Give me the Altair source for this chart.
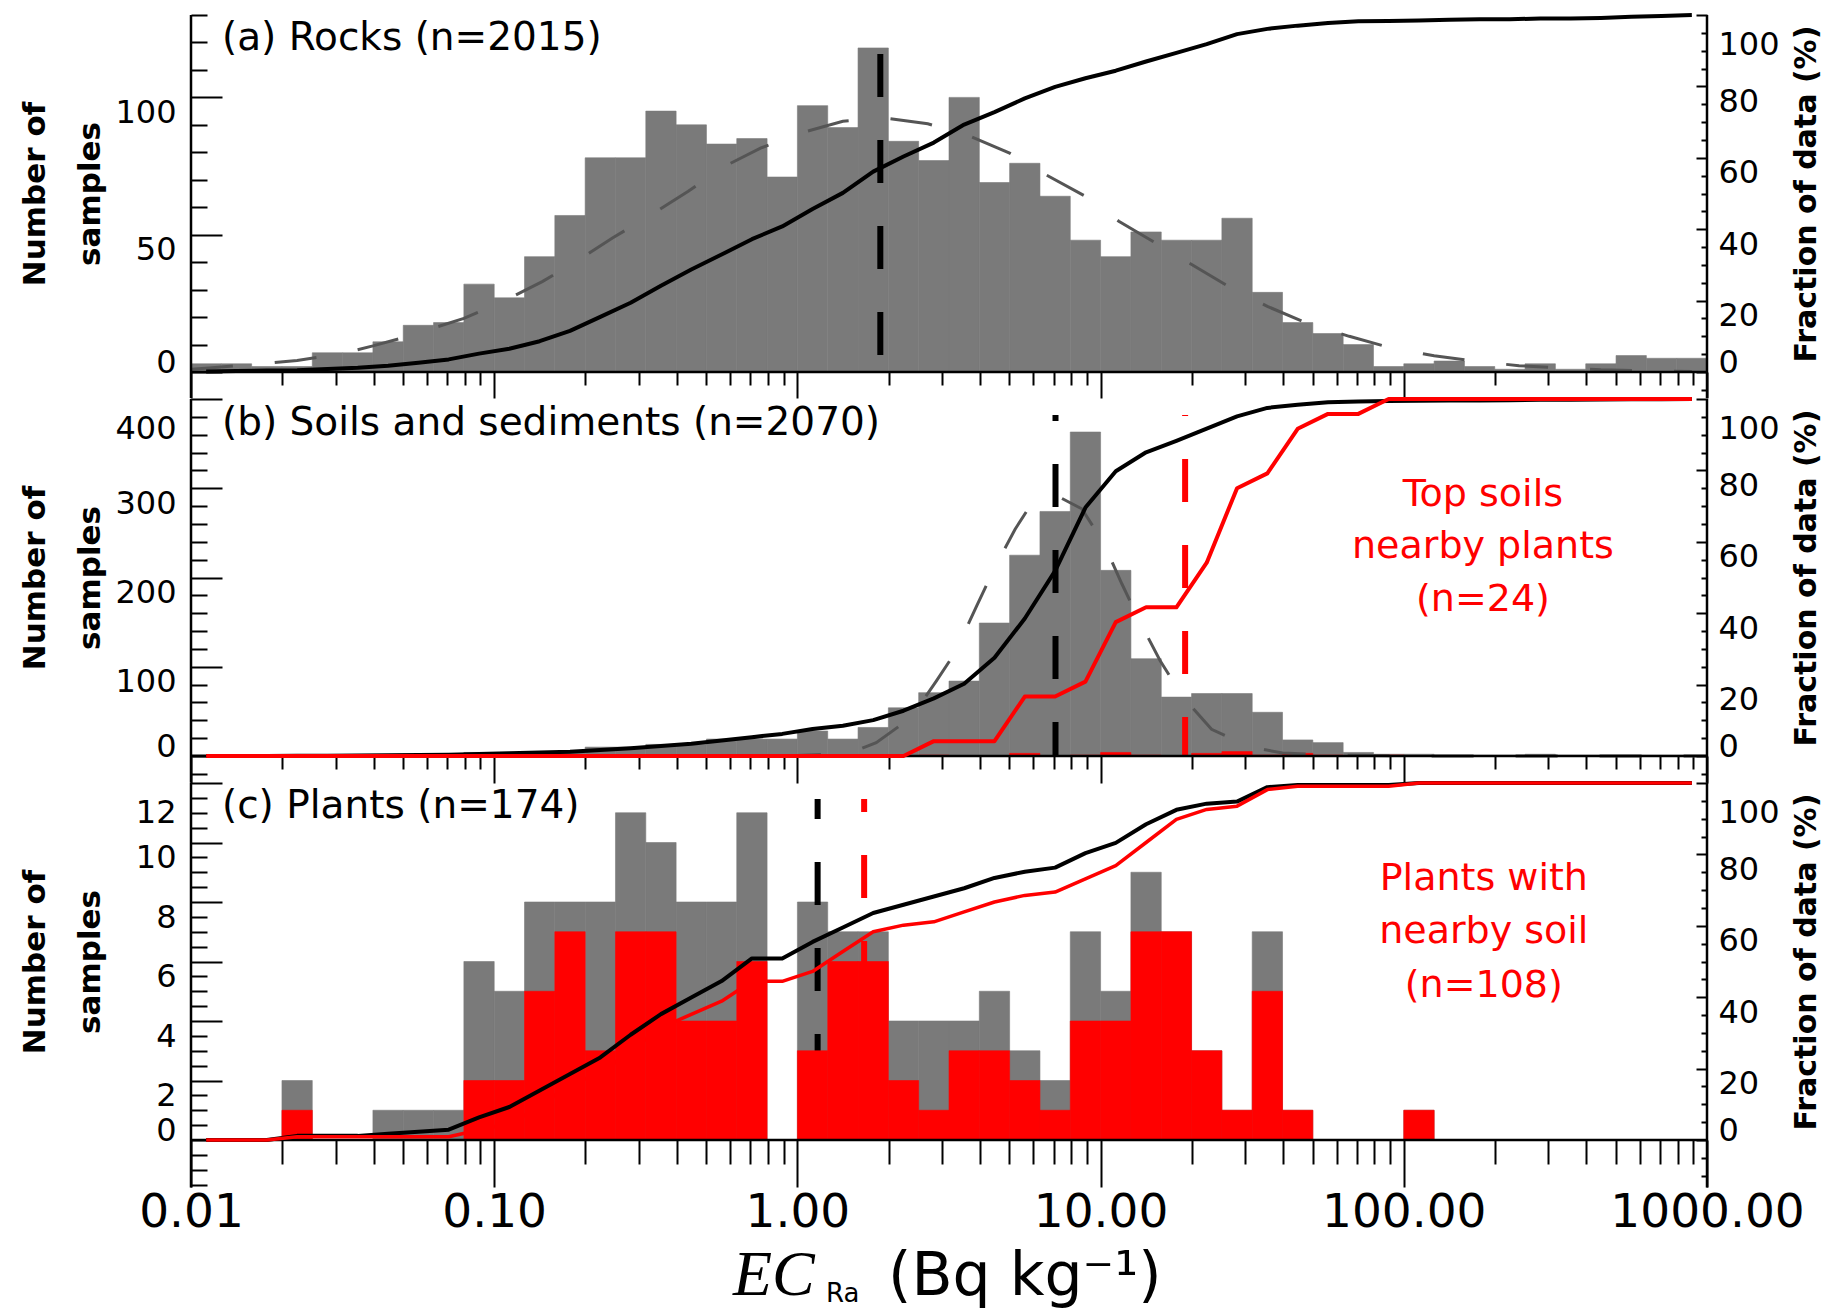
import altair as alt
import pandas as pd

FONT = "DejaVu Sans"
GREY = "#7a7a7a"
FIT_GREY = "#555555"
RED = "#ff0000"

# ---------------- data ----------------
# histograms use 0.1-decade bins from 10^-2 to 10^3 (50 bins)
BIN_LOG_START = -2.0
BIN_LOG_WIDTH = 0.1

ROCKS_COUNTS = [3, 3, 2, 2, 7, 7, 11, 17, 18, 32,
                27, 42, 57, 78, 78, 95, 90, 83, 85, 71,
                97, 89, 118, 84, 77, 100, 69, 76, 64, 48,
                42, 51, 48, 48, 56, 29, 18, 14, 10, 2,
                3, 4, 2, 1, 3, 1, 3, 6, 5, 5]
SOILS_COUNTS = [0, 0, 0, 1, 1, 1, 1, 2, 2, 4,
                4, 4, 4, 10, 10, 13, 13, 19, 19, 19,
                28, 19, 32, 54, 71, 84, 149, 225, 274, 363,
                208, 109, 66, 70, 70, 49, 18, 15, 4, 2,
                2, 1, 1, 1, 2, 1, 1, 1, 1, 1]
TOPSOIL_COUNTS = [0, 0, 0, 0, 0, 0, 0, 0, 0, 0,
                  0, 0, 0, 0, 0, 0, 0, 0, 0, 0,
                  0, 0, 0, 0, 1, 0, 0, 3, 0, 1,
                  4, 1, 0, 3, 5, 1, 3, 1, 0, 1,
                  0, 0, 0, 0, 0, 0, 0, 0, 0, 0]
PLANTS_COUNTS = [0, 0, 0, 2, 0, 0, 1, 1, 1, 6,
                 5, 8, 8, 8, 11, 10, 8, 8, 11, 0,
                 8, 7, 7, 4, 4, 4, 5, 3, 2, 7,
                 5, 9, 7, 3, 1, 7, 1, 0, 0, 0,
                 1, 0, 0, 0, 0, 0, 0, 0, 0, 0]
PLANTS_SOIL_COUNTS = [0, 0, 0, 1, 0, 0, 0, 0, 0, 2,
                      2, 5, 7, 3, 7, 7, 4, 4, 6, 0,
                      3, 6, 6, 2, 1, 3, 3, 2, 1, 4,
                      4, 7, 7, 3, 1, 5, 1, 0, 0, 0,
                      1, 0, 0, 0, 0, 0, 0, 0, 0, 0]

# log-normal fit curves (dashed grey)
ROCKS_FIT_LOGX = [-2.00, -1.94, -1.79, -1.65, -1.51, -1.40, -1.30, -1.20, -1.10, -0.97,
                  -0.84, -0.72, -0.61, -0.49, -0.36, -0.24, -0.12, 0.01, 0.15, 0.29,
                  0.43, 0.57, 0.70, 0.82, 0.95, 1.06, 1.19, 1.31, 1.43, 1.55,
                  1.68, 1.82, 1.95, 2.10, 2.24, 2.38, 2.51, 2.65, 2.80, 2.95]
ROCKS_FIT_COUNT = [1.0, 1.5, 2.8, 4.2, 6.5, 9.5, 12.5, 16.0, 19.5, 25.7,
                   33.0, 40.9, 48.8, 56.7, 65.8, 74.9, 81.6, 87.0, 91.3, 92.5,
                   90.4, 85.8, 79.7, 71.8, 64.0, 54.9, 46.4, 38.5, 30.6, 23.9,
                   17.8, 13.0, 9.0, 5.9, 3.9, 2.3, 1.5, 0.8, 0.5, 0.2]
SOILS_FIT_LOGX = [-2.00, -0.30, 0.00, 0.10, 0.20, 0.26, 0.375, 0.458, 0.503, 0.531,
                  0.591, 0.652, 0.718, 0.767, 0.81, 0.87, 0.938, 1.011, 1.07, 1.13,
                  1.196, 1.272, 1.366, 1.493, 1.60, 1.75, 2.00, 3.00]
SOILS_FIT_COUNT = [0, 0, 0.5, 2, 7, 15, 43, 84, 107, 124,
                   168, 212, 254, 280, 290, 289, 277, 238, 193, 150,
                   107, 66, 30, 10, 3.5, 1, 0, 0]

# central values marked by the vertical dashed lines (Bq/kg)
ROCKS_CENTER = 1.877
SOILS_CENTER = 7.1
TOPSOIL_CENTER = 19.0
PLANTS_CENTER = 1.166
PLANTS_SOIL_CENTER = 1.66

TITLE_A = "(a) Rocks (n=2015)"
TITLE_B = "(b) Soils and sediments (n=2070)"
TITLE_C = "(c) Plants (n=174)"
NOTE_B = "Top soils\nnearby plants\n(n=24)"
NOTE_C = "Plants with\nnearby soil\n(n=108)"

# ---------------- helpers ----------------
W = 1516
XS = alt.Scale(type="log", domain=[0.01, 1000], nice=False)
XTICKS = [m * 10.0 ** e for e in range(-2, 3) for m in range(1, 10)] + [1000.0]
IS_DECADE = "abs(log(datum.value) / LN10 - round(log(datum.value) / LN10)) < 0.001"


def hist_df(counts):
    rows = []
    for i, c in enumerate(counts):
        if c > 0:
            rows.append({"lo": 10 ** (BIN_LOG_START + BIN_LOG_WIDTH * i),
                         "hi": 10 ** (BIN_LOG_START + BIN_LOG_WIDTH * (i + 1)),
                         "count": c})
    return pd.DataFrame(rows)


def cdf_df(counts):
    total = float(sum(counts))
    run = 0
    rows = []
    for i, c in enumerate(counts):
        run += c
        rows.append({"x": 10 ** (BIN_LOG_START + BIN_LOG_WIDTH * (i + 0.5)),
                     "frac": 100.0 * run / total})
    return pd.DataFrame(rows)


def make_x_axis(offset, major, minor, show_labels):
    kw = dict(orient="bottom", offset=offset, values=XTICKS, domain=False, grid=False,
              ticks=True, tickSize=major, tickWidth=2, tickColor="black",
              tickDash={"condition": {"test": IS_DECADE, "value": [400, 1]},
                        "value": [minor, 400]},
              title=None, labelFlush=False, labelOverlap=False)
    if show_labels:
        kw.update(labels=True,
                  labelExpr=f"({IS_DECADE}) ? format(datum.value, '.2f') : ''",
                  labelFont=FONT, labelFontSize=47, labelColor="black", labelPadding=2,
                  labelLimit=0)
    else:
        kw.update(labels=False)
    return alt.Axis(**kw)


def make_left_axis(values, major_test, top_value):
    conds = [{"test": "datum.value == 0", "value": "alphabetic"}]
    if top_value is not None:
        conds.append({"test": f"datum.value == {top_value}", "value": "line-top"})
    return alt.Axis(
        orient="left", offset=-31, values=values, domain=False, grid=False,
        tickSize=31, tickWidth=2, tickColor="black",
        tickDash={"condition": {"test": f"!({major_test})", "value": [0, 15, 16, 400]},
                  "value": [400, 1]},
        labelExpr=f"(datum.value >= 0 && ({major_test})) ? format(datum.value, 'd') : ''",
        labelFont=FONT, labelFontSize=32, labelColor="black", labelPadding=15,
        labelOverlap=False, labelLimit=0,
        labelBaseline={"condition": conds, "value": "top"}, labelLineHeight=59,
        title=["Number of", "samples"], titleFont=FONT, titleFontSize=31,
        titleFontWeight="bold", titleColor="black", titleAngle=270,
        titleBaseline="alphabetic", titleAlign="center", titleLineHeight=55,
        titleX=-178, titleY=178.5)


def make_right_axis(values):
    return alt.Axis(
        orient="right", offset=-11, values=values, domain=False, grid=False,
        tickSize=11, tickWidth=2, tickColor="black",
        tickDash={"condition": {"test": "datum.value % 20 != 0", "value": [0, 5, 6, 400]},
                  "value": [400, 1]},
        labelExpr="(datum.value >= 0 && datum.value % 20 == 0) ? format(datum.value, 'd') : ''",
        labelFont=FONT, labelFontSize=32, labelColor="black", labelPadding=11,
        labelOverlap=False, labelLimit=0,
        labelBaseline={"condition": [{"test": "datum.value == 0", "value": "alphabetic"},
                                     {"test": "datum.value == 100", "value": "line-top"}],
                       "value": "top"},
        labelLineHeight=59,
        title="Fraction of data (%)", titleFont=FONT, titleFontSize=30,
        titleFontWeight="bold", titleColor="black", titleAngle=270,
        titleBaseline="alphabetic", titleAlign="center", titleX=119, titleY=178.5)


def build_panel(p):
    ys = alt.Scale(domain=[p["ymin"], p["ymax"]], nice=False, zero=False)
    fs = alt.Scale(domain=[100.0 * p["ymin"] / p["ymax"], 100], nice=False, zero=False)
    xax = make_x_axis(p["xoff"], p["xmajor"], p["xminor"], p["xlabels"])
    yax = make_left_axis(p["left_ticks"], p["left_major"], p["left_top"])
    rax = make_right_axis(p["right_ticks"])

    def X(f):
        return alt.X(f"{f}:Q", scale=XS, axis=xax)

    def Y(f):
        return alt.Y(f"{f}:Q", scale=ys, axis=yax)

    layers = []
    layers.append(alt.Chart(hist_df(p["grey"])).mark_rect(
        color=GREY, stroke=GREY, strokeWidth=0.6).encode(
        x=X("lo"), x2="hi:Q", y=Y("count"), y2=alt.datum(0)))

    for (xv, col, top, off) in p["vlines"]:
        d = pd.DataFrame({"x": [xv], "top": [top], "bottom": [0]})
        layers.append(alt.Chart(d).mark_rule(
            color=col, strokeWidth=6, strokeDash=[43, 43], strokeDashOffset=off).encode(
            x=X("x"), y=Y("top"), y2="bottom:Q"))

    if p.get("red") is not None:
        layers.append(alt.Chart(hist_df(p["red"])).mark_rect(
            color=RED, stroke=RED, strokeWidth=0.6).encode(
            x=X("lo"), x2="hi:Q", y=Y("count"), y2=alt.datum(0)))

    if p.get("fit") is not None:
        lx, cy = p["fit"]
        d = pd.DataFrame({"x": [10 ** v for v in lx], "y": cy})
        layers.append(alt.Chart(d).mark_line(
            color=FIT_GREY, strokeWidth=3, strokeDash=[42, 42]).encode(
            x=X("x"), y=Y("y")))

    # zero line and left/right frame lines
    zero = pd.DataFrame({"x": [0.01], "x2": [1000.0], "y": [0]})
    layers.append(alt.Chart(zero).mark_rule(color="black", strokeWidth=2.5).encode(
        x=X("x"), x2="x2:Q", y=Y("y")))
    frame = pd.DataFrame({"x": [0.01, 1000.0], "y": [p["ymin"]] * 2, "y2": [p["ymax"]] * 2})
    layers.append(alt.Chart(frame).mark_rule(color="black", strokeWidth=2.5).encode(
        x=X("x"), y=Y("y"), y2="y2:Q"))

    # panel title
    tx, ty = p["title_pos"]
    layers.append(alt.Chart(pd.DataFrame({"x": [tx], "y": [ty], "t": [p["title"]]})).mark_text(
        align="left", baseline="alphabetic", font=FONT, fontSize=39, color="black").encode(
        x=X("x"), y=Y("y"), text="t:N"))

    if p.get("note") is not None:
        nx, ny, txt, lh = p["note"]
        layers.append(alt.Chart(pd.DataFrame({"x": [nx], "y": [ny], "t": [txt]})).mark_text(
            align="center", baseline="alphabetic", font=FONT, fontSize=38, color=RED,
            lineBreak="\n", lineHeight=lh).encode(x=X("x"), y=Y("y"), text="t:N"))

    if p.get("xtitle"):
        pieces = [
            (0.6131, -5.21, "EC", "Liberation Serif", 64, "italic"),
            (1.2427, -5.45, "Ra", FONT, 26, "normal"),
            (1.99, -5.21, "(Bq kg\u207b\u00b9)", FONT, 60, "normal"),
        ]
        for (px, py, txt, fnt, fsz, fst) in pieces:
            layers.append(alt.Chart(pd.DataFrame({"x": [px], "y": [py], "t": [txt]})).mark_text(
                align="left", baseline="alphabetic", font=fnt, fontSize=fsz, fontStyle=fst,
                color="black").encode(x=X("x"), y=Y("y"), text="t:N"))

    frac_layers = []
    for counts, col, sw in p["cdfs"]:
        frac_layers.append(alt.Chart(cdf_df(counts)).mark_line(
            color=col, strokeWidth=sw, strokeJoin="round").encode(
            x=X("x"), y=alt.Y("frac:Q", scale=fs, axis=rax)))

    return alt.layer(alt.layer(*layers), alt.layer(*frac_layers)).resolve_scale(
        y="independent").properties(width=W, height=p["H"])


RIGHT_TICKS_AB = [-5] + list(range(0, 101, 5))
RIGHT_TICKS_C = [-10, -5] + list(range(0, 101, 5))

panel_a = dict(
    ymin=-9.5, ymax=130, H=383.1, xoff=-26.1, xmajor=26, xminor=13, xlabels=False,
    left_ticks=list(range(0, 131, 10)), left_major="datum.value % 50 == 0", left_top=None,
    right_ticks=RIGHT_TICKS_AB, grey=ROCKS_COUNTS, red=None,
    fit=(ROCKS_FIT_LOGX, ROCKS_FIT_COUNT),
    vlines=[(ROCKS_CENTER, "black", 115.8, 0)],
    title=TITLE_A, title_pos=(0.01265, 117.1), note=None,
    cdfs=[(ROCKS_COUNTS, "black", 4)])

panel_b = dict(
    ymin=-30, ymax=400, H=383.8, xoff=-26.8, xmajor=27, xminor=13, xlabels=False,
    left_ticks=[-20] + list(range(0, 401, 20)), left_major="datum.value % 100 == 0",
    left_top=400, right_ticks=RIGHT_TICKS_AB, grey=SOILS_COUNTS, red=TOPSOIL_COUNTS,
    fit=(SOILS_FIT_LOGX, SOILS_FIT_COUNT),
    vlines=[(SOILS_CENTER, "black", 382, 37), (TOPSOIL_CENTER, RED, 382, 42)],
    title=TITLE_B, title_pos=(0.01265, 360), note=(182.4, 280.2, NOTE_B, 52.5),
    cdfs=[(SOILS_COUNTS, "black", 4), (TOPSOIL_COUNTS, RED, 4)])

panel_c = dict(
    ymin=-1.6, ymax=12, H=404.6, xoff=-47.6, xmajor=47, xminor=24, xlabels=True,
    left_ticks=[-1.5, -1.0, -0.5] + [0.5 * i for i in range(0, 25)],
    left_major="datum.value % 2 == 0", left_top=12,
    right_ticks=RIGHT_TICKS_C, grey=PLANTS_COUNTS, red=PLANTS_SOIL_COUNTS, fit=None,
    vlines=[(PLANTS_CENTER, "black", 11.46, 23), (PLANTS_SOIL_CENTER, RED, 11.46, 30)],
    title=TITLE_C, title_pos=(0.01265, 10.84), note=(183.6, 8.42, NOTE_C, 53.5),
    xtitle=True,
    cdfs=[(PLANTS_COUNTS, "black", 4), (PLANTS_SOIL_COUNTS, RED, 3.5)])

chart = alt.vconcat(build_panel(panel_a), build_panel(panel_b), build_panel(panel_c),
                    spacing=0, bounds="flush").resolve_scale(y="independent").properties(
    padding={"left": 11, "top": 5, "right": 0, "bottom": 0}).configure_view(stroke=None)

chart.save("out.html", embed_options={"renderer": "svg", "actions": False})
